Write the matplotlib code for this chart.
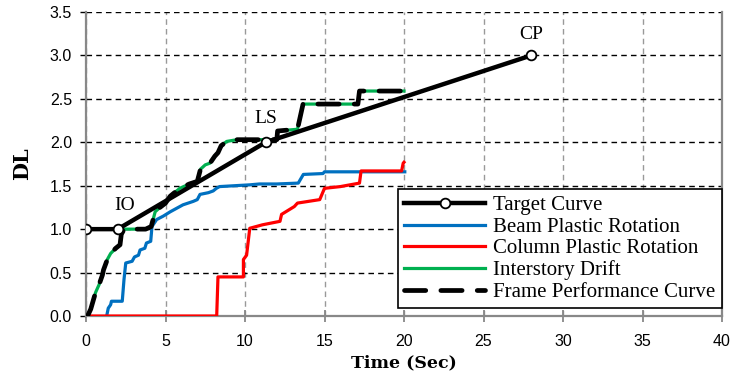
import matplotlib
matplotlib.use("Agg")
import matplotlib.pyplot as plt

# target curve (IO, LS, CP)
target_t = [0, 2.0, 11.3, 28.0]
target_dl = [1.0, 1.0, 2.0, 3.0]
target_labels = ["IO", "LS", "CP"]

beam_t = [1.3, 1.4, 1.55, 1.6, 2.28, 2.39, 2.5, 2.9, 3.05, 3.3, 3.4, 3.7, 3.8, 4.07, 4.15,
          4.44, 4.86, 5.3, 5.7, 6.1, 6.75, 7.0, 7.17, 7.7, 8.0, 8.2, 8.4, 10.3, 10.9, 12.0,
          13.35, 13.67, 14.9, 15.0, 20.05]
beam_dl = [0.0, 0.09, 0.13, 0.17, 0.17, 0.42, 0.61, 0.63, 0.68, 0.70, 0.76, 0.78, 0.84, 0.86, 1.03,
           1.11, 1.15, 1.20, 1.24, 1.28, 1.32, 1.34, 1.40, 1.42, 1.44, 1.47, 1.49, 1.51, 1.52, 1.52,
           1.53, 1.63, 1.64, 1.66, 1.66]

col_t = [0, 8.22, 8.3, 9.9, 9.9, 10.1, 10.3, 11.1, 12.2, 12.3, 13.1, 13.3, 14.7, 15.0, 16.0,
         16.6, 17.2, 17.3, 19.85, 19.95, 20.0]
col_dl = [0.0, 0.0, 0.45, 0.45, 0.65, 0.70, 1.01, 1.05, 1.09, 1.17, 1.26, 1.30, 1.34, 1.47, 1.49,
          1.51, 1.53, 1.67, 1.67, 1.76, 1.77]

drift_t = [0.1, 0.3, 0.6, 0.82, 1.03, 1.1, 1.34, 1.55, 1.87, 2.14, 2.22, 2.4, 3.75, 4.1, 4.25,
           4.35, 4.65, 5.0, 5.3, 5.9, 6.5, 7.0, 7.2, 7.5, 7.8, 8.1, 8.3, 8.5, 8.85, 9.5, 12.0,
           12.05, 13.3, 13.65, 17.1, 17.2, 20.0]
drift_dl = [0.0, 0.08, 0.27, 0.36, 0.47, 0.53, 0.65, 0.72, 0.78, 0.82, 0.94, 1.0, 1.0, 1.03, 1.13,
            1.2, 1.25, 1.3, 1.38, 1.47, 1.52, 1.55, 1.69, 1.74, 1.76, 1.84, 1.88, 1.96, 2.01, 2.03, 2.03,
            2.13, 2.15, 2.44, 2.44, 2.59, 2.59]

# frame performance curve follows the governing (interstory drift) envelope
frame_t = drift_t
frame_dl = drift_dl

fig = plt.figure(figsize=(7.34, 3.78), dpi=100)
ax = fig.add_axes([86 / 734, 1 - 316 / 378, 636 / 734, 304 / 378])

ax.plot(target_t, target_dl, color="black", lw=3.2, marker="o", ms=7,
        mfc="white", mec="black", mew=1.3, label="Target Curve", zorder=5)
ax.plot(beam_t, beam_dl, color="#0070C0", lw=2.3, label="Beam Plastic Rotation", zorder=3)
ax.plot(col_t, col_dl, color="#FF0000", lw=2.3, label="Column Plastic Rotation", zorder=3)
ax.plot(drift_t, drift_dl, color="#00B050", lw=2.3, label="Interstory Drift", zorder=3)
ax.plot(frame_t, frame_dl, color="black", lw=3.4, dashes=(4.5, 3.2), dash_capstyle="round",
        label="Frame Performance Curve", zorder=4)

offsets = [(5, 11), (0, 11), (0, 9)]
for t, d, lab, off in zip(target_t[1:], target_dl[1:], target_labels, offsets):
    ax.annotate(lab, (t, d), xytext=off, textcoords="offset points", ha="center",
                va="bottom", family="Liberation Serif", fontsize=14)

ax.set_xlim(0, 40)
ax.set_ylim(0, 3.5)
ax.set_xticks(range(0, 41, 5))
ax.set_yticks([i * 0.5 for i in range(8)])
ax.set_yticklabels([f"{i * 0.5:.1f}" for i in range(8)])

ax.yaxis.grid(True, color="black", ls=(0, (4, 3)), lw=1.0)
ax.xaxis.grid(True, color="#999999", ls=(0, (4, 3)), lw=1.0)
ax.set_axisbelow(True)

for s in ["left", "bottom", "right"]:
    ax.spines[s].set_color("#888888")
    ax.spines[s].set_linewidth(1.6)
ax.spines["top"].set_visible(False)

ax.tick_params(axis="x", direction="inout", length=8, width=1.3, color="#888888", pad=9)
ax.tick_params(axis="y", direction="out", length=4, width=1.0, color="black", pad=6)
for lab in ax.get_xticklabels() + ax.get_yticklabels():
    lab.set_family("Liberation Sans")
    lab.set_fontsize(11.5)

ax.set_xlabel("Time (Sec)", family="DejaVu Serif", fontweight="bold", fontsize=12.5, labelpad=4)
ax.set_ylabel("DL", family="DejaVu Serif", fontweight="bold", fontsize=15, labelpad=13)

leg = ax.legend(loc="lower right", bbox_to_anchor=(1.0, 0.025), prop={"family": "Liberation Serif", "size": 15},
                frameon=True, fancybox=False, edgecolor="black", framealpha=1,
                handlelength=3.9, handletextpad=0.4, labelspacing=0.1, borderpad=0.3,
                borderaxespad=0.0)
leg.get_frame().set_linewidth(1.2)

fig.savefig("out.png", dpi=100)
